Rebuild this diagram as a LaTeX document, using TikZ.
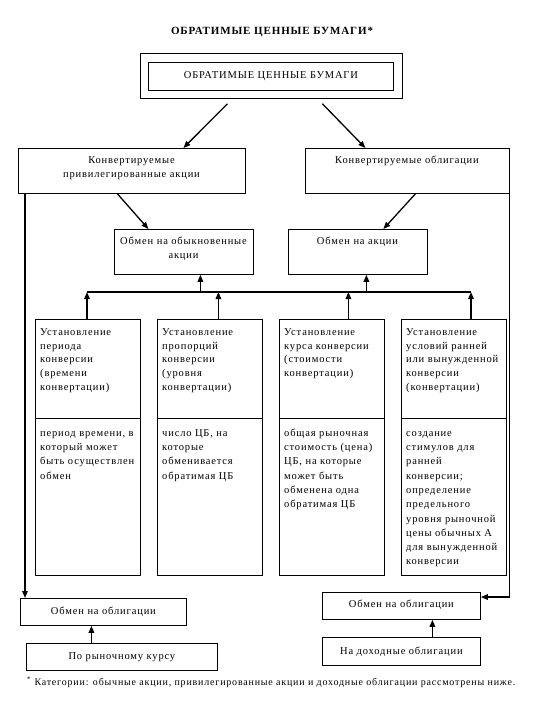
\documentclass[tikz,border=0pt]{standalone}
\usepackage{fontspec}
\setmainfont{Liberation Serif}[LetterSpace=8]
\usetikzlibrary{arrows.meta,calc}
\begin{document}
\begin{tikzpicture}[x=1pt,y=-1pt,
  every node/.style={font=\fontsize{10.5}{12}\selectfont, inner sep=0pt},
  box/.style={draw, line width=0.8pt, rectangle, anchor=north west},
  arr/.style={line width=1.3pt, -{Triangle[length=7pt,width=5.5pt]}},
  conn/.style={line width=1.3pt},
  coltxt/.style={anchor=north west, align=left, font=\fontsize{10.5}{13.6}\selectfont},
  lowtxt/.style={anchor=north west, align=left, font=\fontsize{10.5}{14.3}\selectfont}]
\useasboundingbox (0,0) rectangle (540,720);

\node[font=\fontsize{11}{13}\selectfont\bfseries] (title) at (272,32) {ОБРАТИМЫЕ ЦЕННЫЕ БУМАГИ*};

\node[box, minimum width=262, minimum height=45] (top) at (140,53) {};
\node[box, minimum width=245, minimum height=28] (topin) at (148,62) {ОБРАТИМЫЕ ЦЕННЫЕ БУМАГИ};

\node[box, minimum width=227, minimum height=45] (A) at (18,148) {};
\node[align=center] (Atxt) at (131.5,168) {Конвертируемые\\[2pt]привилегированные акции};
\node[box, minimum width=204, minimum height=45] (B) at (305,148) {};
\node (Btxt) at (407,161) {Конвертируемые облигации};

\node[box, minimum width=139, minimum height=45] (C) at (114,229) {};
\node[align=center] (Ctxt) at (183.5,249) {Обмен на обыкновенные\\[2pt]акции};
\node[box, minimum width=139, minimum height=45] (D) at (288,229) {};
\node (Dtxt) at (357.5,242) {Обмен на акции};

% columns
\node[box, minimum width=105, minimum height=99] (u1) at (35,319) {};
\node[box, minimum width=105, minimum height=157] (l1) at (35,418) {};
\node[box, minimum width=105, minimum height=99] (u2) at (157,319) {};
\node[box, minimum width=105, minimum height=157] (l2) at (157,418) {};
\node[box, minimum width=105, minimum height=99] (u3) at (279,319) {};
\node[box, minimum width=105, minimum height=157] (l3) at (279,418) {};
\node[box, minimum width=105, minimum height=99] (u4) at (401,319) {};
\node[box, minimum width=105, minimum height=157] (l4) at (401,418) {};

\node[coltxt] (u1t) at ($(u1.north west)+(5,7)$) {\strut Установление\\периода\\конверсии\\(времени\\конвертации)};
\node[coltxt] (u2t) at ($(u2.north west)+(5,7)$) {\strut Установление\\пропорций\\конверсии\\(уровня\\конвертации)};
\node[coltxt] (u3t) at ($(u3.north west)+(5,7)$) {\strut Установление\\курса конверсии\\(стоимости\\конвертации)};
\node[coltxt] (u4t) at ($(u4.north west)+(5,7)$) {\strut Установление\\условий ранней\\или вынужденной\\конверсии\\(конвертации)};

\node[lowtxt] (l1t) at ($(l1.north west)+(5,8)$) {\strut период времени, в\\который может\\быть осуществлен\\обмен};
\node[lowtxt] (l2t) at ($(l2.north west)+(5,8)$) {\strut число ЦБ, на\\которые\\обменивается\\обратимая ЦБ};
\node[lowtxt] (l3t) at ($(l3.north west)+(5,8)$) {\strut общая рыночная\\стоимость (цена)\\ЦБ, на которые\\может быть\\обменена одна\\обратимая ЦБ};
\node[lowtxt] (l4t) at ($(l4.north west)+(5,8)$) {\strut создание\\стимулов для\\ранней\\конверсии;\\определение\\предельного\\уровня рыночной\\цены обычных А\\для вынужденной\\конверсии};

% bottom boxes
\node[box, minimum width=166, minimum height=27] (E) at (20,598) {};
\node (Etxt) at (E.center) {Обмен на облигации};
\node[box, minimum width=191, minimum height=27] (F) at (26,643) {};
\node (Ftxt) at (F.center) {По рыночному курсу};
\node[box, minimum width=158, minimum height=27] (G) at (322,592) {};
\node (Gtxt) at ($(G.center)+(0,-1)$) {Обмен на облигации};
\node[box, minimum width=158, minimum height=28] (H) at (322,637) {};
\node (Htxt) at (H.center) {На доходные облигации};

\node[anchor=west, font=\fontsize{10}{12}\selectfont] (foot) at (27,682) {\textsuperscript{*} Категории: обычные акции, привилегированные акции и доходные облигации рассмотрены ниже.};

% connectors
\draw[arr] ($(top.south)+(-44,5)$) -- ($(A.north)+(51.5,0)$);
\draw[arr] ($(top.south)+(51,5)$) -- ($(B.north)+(-42,0)$);
\draw[arr] ($(A.south)+(-14.5,0)$) -- ($(C.north)+(-35.5,0)$);
\draw[arr] ($(B.south)+(8,0)$) -- ($(D.north)+(25.5,0)$);
\draw[arr] ($(A.south west)+(7,0)$) -- ($(E.north west)+(5,0)$);
\draw[arr] (B.south east) |- ($(G.north east)+(0,5)$);
\draw[arr] ($(F.north)+(-30.5,0)$) -- ($(E.south)+(-12,0)$);
\draw[arr] ($(H.north)+(31,0)$) -- ($(G.south)+(31,0)$);

\coordinate (busL) at (87,292);
\coordinate (busR) at (471,292);
\draw[conn] (busL) -- (busR);
\coordinate (cs) at ($(C.south)+(16.5,0)$);
\coordinate (ds) at ($(D.south)+(8.5,0)$);
\draw[arr] (cs |- busL) -- (cs);
\draw[arr] (ds |- busL) -- (ds);
\coordinate (c2) at ($(u2.north)+(8.5,0)$);
\coordinate (c3) at ($(u3.north)+(16.5,0)$);
\draw[arr] (busL |- u1.north) -- (busL);
\draw[arr] (c2) -- (c2 |- busL);
\draw[arr] (c3) -- (c3 |- busL);
\draw[arr] (busR |- u4.north) -- (busR);
\end{tikzpicture}
\end{document}
